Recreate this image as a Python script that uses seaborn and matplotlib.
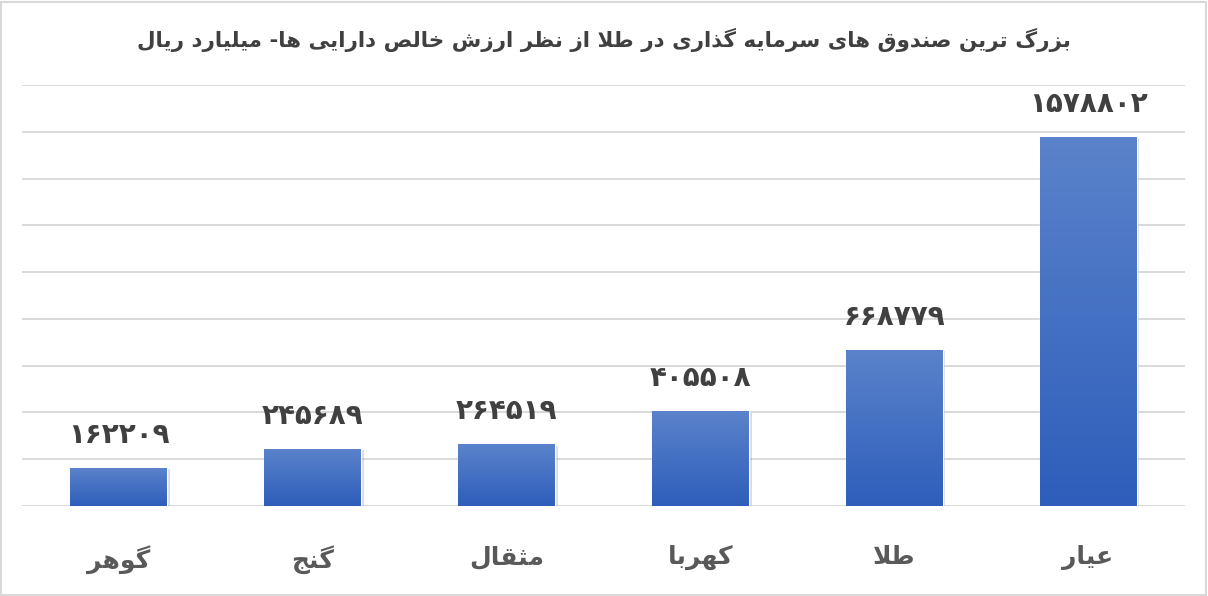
import numpy as np
import pandas as pd
import seaborn as sns
import matplotlib.pyplot as plt
from matplotlib.colors import LinearSegmentedColormap
from matplotlib.patches import Rectangle
import matplotlib.patheffects as pe

# data
categories = ["گوهر", "گنج", "مثقال", "کهربا", "طلا", "عیار"]
values = [162209, 245689, 264519, 405508, 668779, 1578802]
title = "بزرگ ترین صندوق های سرمایه گذاری در طلا از نظر ارزش خالص دارایی ها- میلیارد ریال"

# minimal arabic/persian shaping (matplotlib has no bidi / joining)
FORMS = {
    "ا": ("\uFE8D", "\uFE8E", None, None),
    "ب": ("\uFE8F", "\uFE90", "\uFE91", "\uFE92"),
    "ت": ("\uFE95", "\uFE96", "\uFE97", "\uFE98"),
    "ث": ("\uFE99", "\uFE9A", "\uFE9B", "\uFE9C"),
    "ج": ("\uFE9D", "\uFE9E", "\uFE9F", "\uFEA0"),
    "خ": ("\uFEA5", "\uFEA6", "\uFEA7", "\uFEA8"),
    "د": ("\uFEA9", "\uFEAA", None, None),
    "ذ": ("\uFEAB", "\uFEAC", None, None),
    "ر": ("\uFEAD", "\uFEAE", None, None),
    "ز": ("\uFEAF", "\uFEB0", None, None),
    "س": ("\uFEB1", "\uFEB2", "\uFEB3", "\uFEB4"),
    "ش": ("\uFEB5", "\uFEB6", "\uFEB7", "\uFEB8"),
    "ص": ("\uFEB9", "\uFEBA", "\uFEBB", "\uFEBC"),
    "ط": ("\uFEC1", "\uFEC2", "\uFEC3", "\uFEC4"),
    "ظ": ("\uFEC5", "\uFEC6", "\uFEC7", "\uFEC8"),
    "ع": ("\uFEC9", "\uFECA", "\uFECB", "\uFECC"),
    "ق": ("\uFED5", "\uFED6", "\uFED7", "\uFED8"),
    "ل": ("\uFEDD", "\uFEDE", "\uFEDF", "\uFEE0"),
    "م": ("\uFEE1", "\uFEE2", "\uFEE3", "\uFEE4"),
    "ن": ("\uFEE5", "\uFEE6", "\uFEE7", "\uFEE8"),
    "ه": ("\uFEE9", "\uFEEA", "\uFEEB", "\uFEEC"),
    "و": ("\uFEED", "\uFEEE", None, None),
    "ی": ("\uFBFC", "\uFBFD", "\uFBFE", "\uFBFF"),
    "ک": ("\uFB8E", "\uFB8F", "\uFB90", "\uFB91"),
    "گ": ("\uFB92", "\uFB93", "\uFB94", "\uFB95"),
}


def dual(c):
    return c in FORMS and FORMS[c][2] is not None


def shape(s):
    res = []
    i = 0
    while i < len(s):
        c = s[i]
        if c not in FORMS:
            res.append(c)
            i += 1
            continue
        cp = i > 0 and dual(s[i - 1])
        if c == "ل" and i + 1 < len(s) and s[i + 1] == "ا":
            res.append("\uFEFC" if cp else "\uFEFB")
            i += 2
            continue
        cn = dual(c) and i + 1 < len(s) and s[i + 1] in FORMS
        iso, fin, ini, med = FORMS[c]
        res.append(med if cp and cn else fin if cp else ini if cn else iso)
        i += 1
    return "".join(res)[::-1]


fa_digits = str.maketrans("0123456789", "۰۱۲۳۴۵۶۷۸۹")

df = pd.DataFrame({"cat": [shape(c) for c in categories], "val": values})

sns.set_style("white")
plt.rcParams["font.family"] = ["DejaVu Sans"]

fig = plt.figure(figsize=(12.08, 5.96), dpi=100)
ax = fig.add_axes([0.018, 0.151, 0.963, 0.706])

sns.barplot(data=df, x="cat", y="val", color="#2E5EBB", width=0.5, ax=ax)

cmap = LinearSegmentedColormap.from_list("g", ["#2E5EBB", "#5B83CB"])
grad = np.linspace(0, 1, 256).reshape(-1, 1)
for p in ax.patches:
    x0, y0, w, h = p.get_x(), p.get_y(), p.get_width(), p.get_height()
    p.set_path_effects([pe.SimplePatchShadow(offset=(2, -1), shadow_rgbFace="#8a8a8a", alpha=0.3), pe.Normal()])
    im = ax.imshow(grad, extent=[x0, x0 + w, y0, y0 + h], origin="lower", aspect="auto",
                   cmap=cmap, zorder=p.get_zorder() + 0.1)
    im.set_clip_path(p)

for i, v in enumerate(values):
    ax.annotate(str(v).translate(fa_digits), (i, v), xytext=(0, 18), textcoords="offset points",
                ha="center", va="baseline", fontsize=20, fontweight="bold", color="#404040")

ax.set_xlim(-0.5, 5.5)
ax.set_ylim(0, 1800000)
ax.set_yticks(np.arange(0, 1800001, 200000))
ax.set_yticklabels([])
ax.tick_params(axis="y", length=0)
ax.tick_params(axis="x", length=0, pad=28, labelsize=18, labelcolor="#595959")
for lab in ax.get_xticklabels():
    lab.set_fontweight("bold")
ax.set_xlabel("")
ax.set_ylabel("")
ax.yaxis.grid(True, color="#D9D9D9", linewidth=1.4)
ax.set_axisbelow(True)
sns.despine(ax=ax, left=True, bottom=True)

fig.text(0.5, 0.933, shape(title), ha="center", va="center", fontsize=15.4,
         fontweight="bold", color="#404040")

fig.patches.append(Rectangle((0.001, 0.002), 0.997, 0.995, transform=fig.transFigure,
                             fill=False, edgecolor="#D9D9D9", linewidth=1.5))

plt.savefig("out.png", dpi=100)
plt.close()
